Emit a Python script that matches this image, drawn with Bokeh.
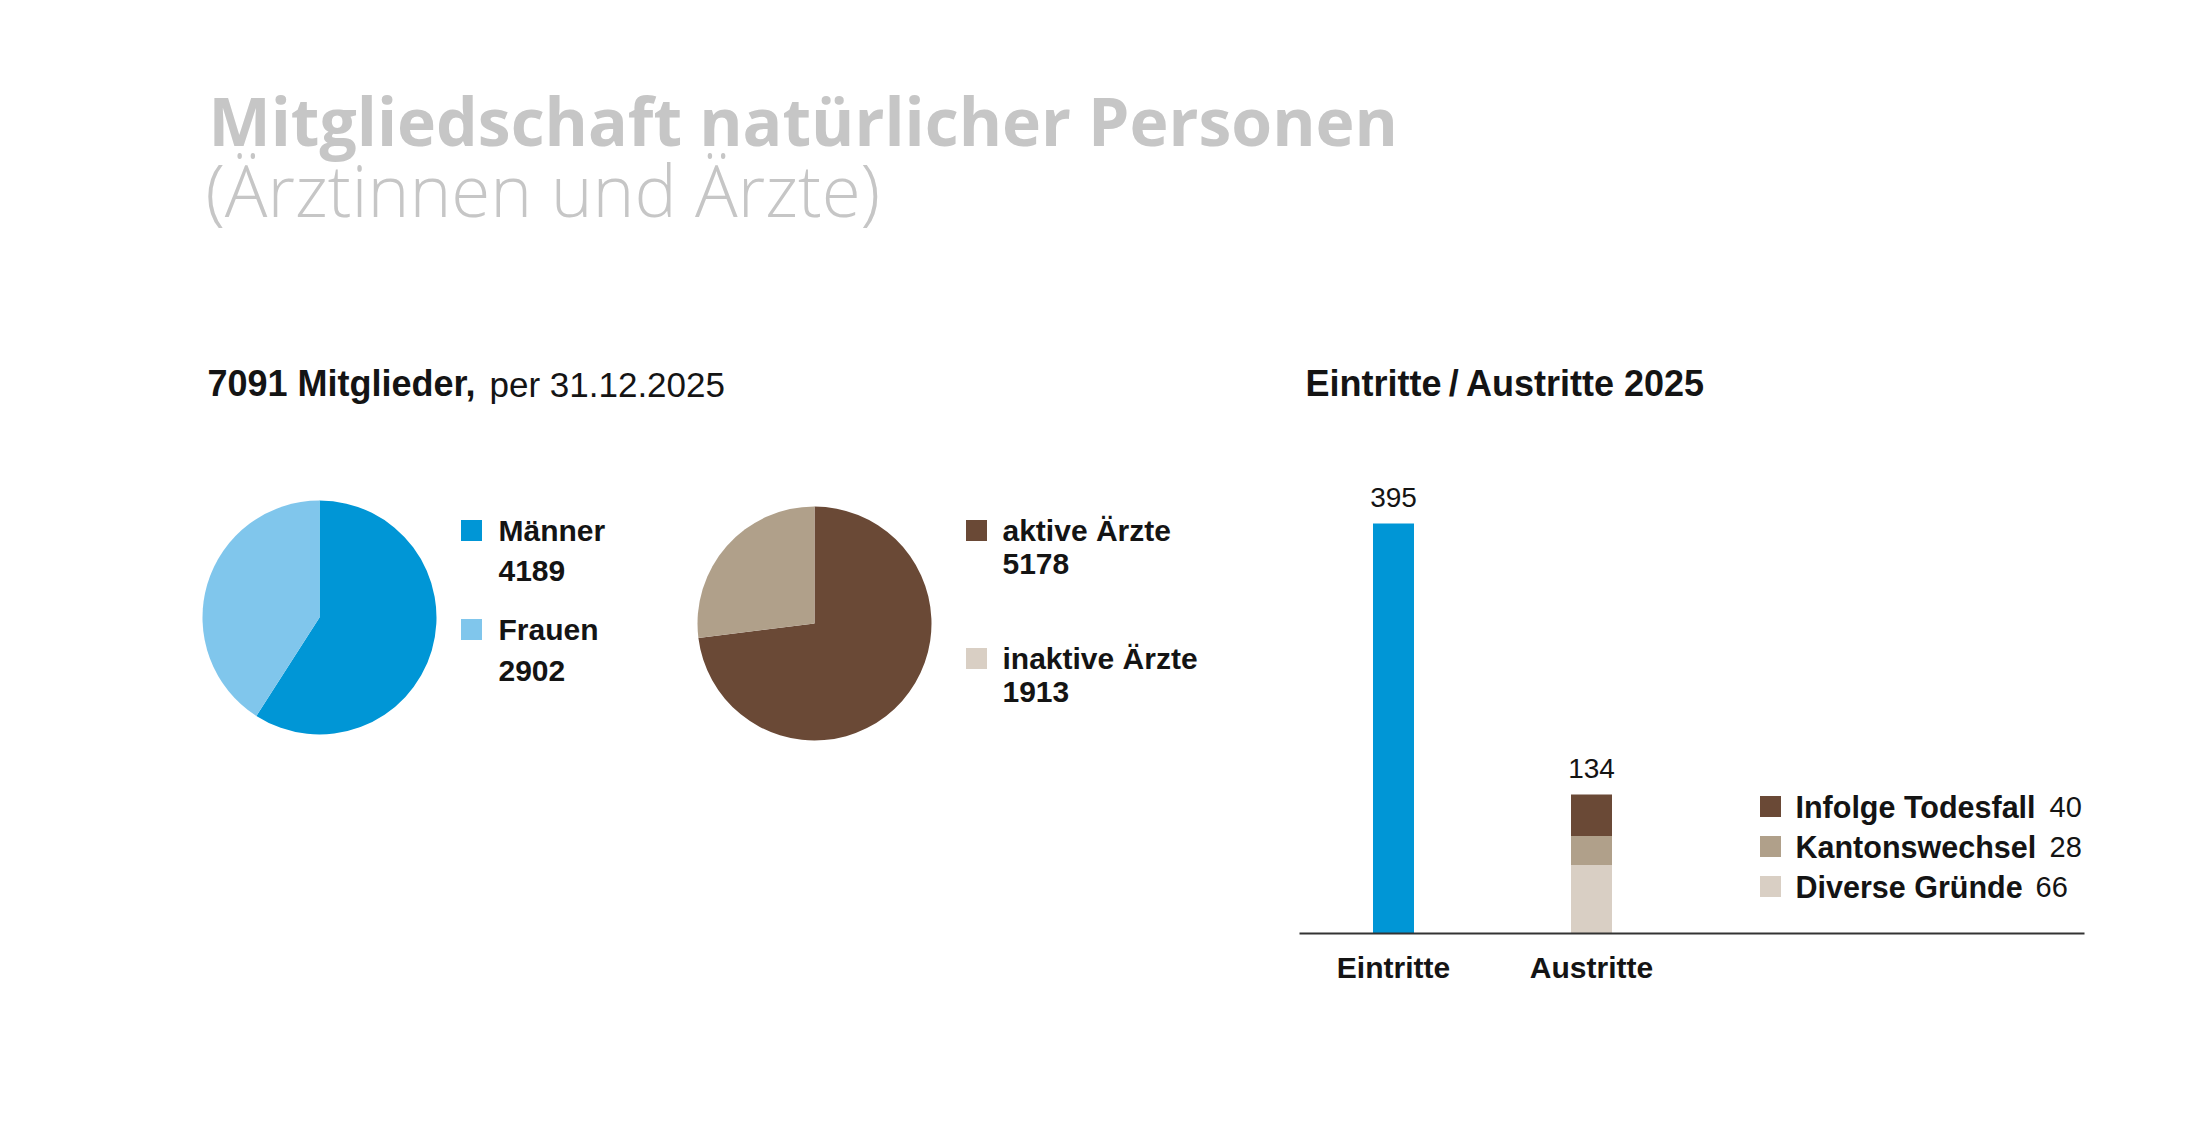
import numpy as np
from bokeh.plotting import figure
from bokeh.models import Range1d, FixedTicker, LinearAxis
from bokeh.core.properties import value
from bokeh.embed import file_html
from bokeh.resources import INLINE

# ---- data -------------------------------------------------------------
title_text = "Mitgliedschaft natürlicher Personen"
subtitle_text = "(Ärztinnen und Ärzte)"
members_total = 7091
members_date = "31.12.2025"

gender_labels = ["Männer", "Frauen"]
gender_values = [4189, 2902]

status_labels = ["aktive Ärzte", "inaktive Ärzte"]
status_values = [5178, 1913]

flow_categories = ["Eintritte", "Austritte"]
entries_value = 395
exit_reasons = ["Infolge Todesfall", "Kantonswechsel", "Diverse Gründe"]
exit_values = [40, 28, 66]

# ---- styling ----------------------------------------------------------
W, H = 2186, 1145
BLUE, LIGHT_BLUE = "#0096d6", "#80c6ec"
BROWN, TAN, SAND = "#6a4936", "#b0a08a", "#d9cfc4"
INK = "#141414"
GREY = "#c6c6c6"
HELV = value("Liberation Sans")

# The page is one plot; the frame covers everything above the bar baseline,
# the strip below it holds the category axis of the bar chart.
BASE_Y = 933                      # page row of the bar baseline
p = figure(width=W, height=H, x_range=Range1d(0, W), y_range=Range1d(H - BASE_Y, H),
           output_backend="svg", toolbar_location=None, x_axis_location=None,
           y_axis_location=None, min_border_left=0, min_border_right=0,
           min_border_top=0, min_border_bottom=H - BASE_Y)
p.grid.visible = False
p.outline_line_color = None
p.background_fill_color = "white"
p.border_fill_color = "white"


def Y(page_y):
    """page row (from the top) -> default y range"""
    return H - page_y


def txt(x, y, s, size, bold=False, color=INK, font=HELV, **kw):
    p.text(x=[x], y=[Y(y)], text=[s], text_font=font,
           text_font_style="bold" if bold else "normal", text_font_size=size,
           text_color=color, **kw)


# ---- header -----------------------------------------------------------
txt(208, 164, title_text, "66px", bold=True, color=GREY, font=value("Open Sans"))
txt(205, 237, subtitle_text, "71px", color=GREY, font=value("Open Sans Light"))
txt(207, 403, f"{members_total} Mitglieder,", "36px", bold=True)
txt(489, 403, f"per {members_date}", "35px")
txt(1305, 403, "Eintritte\u2009/\u2009Austritte 2025", "36px", bold=True)


# ---- pies -------------------------------------------------------------
def pie(cx, cy, values, colors):
    v = np.asarray(values, dtype=float)
    cum = np.concatenate([[0.0], np.cumsum(v / v.sum())])
    # slices run clockwise from 12 o'clock
    end = np.pi / 2 - 2 * np.pi * cum[:-1]
    start = np.pi / 2 - 2 * np.pi * cum[1:]
    p.wedge(x=[cx] * len(v), y=[Y(cy)] * len(v), radius=117, radius_units="screen",
            start_angle=start, end_angle=end, fill_color=colors, line_color=None)


def legend_entry(sx, sy, color, tx, label, label_y, number, number_y):
    p.scatter(x=[sx], y=[Y(sy)], marker="square", size=21, fill_color=color,
              line_color=None)
    txt(tx, label_y, label, "30px", bold=True, text_baseline="middle")
    txt(tx, number_y, str(number), "30px", bold=True, text_baseline="middle")


pie(319, 617, gender_values, [BLUE, LIGHT_BLUE])
legend_entry(471, 530, BLUE, 498, gender_labels[0], 530, gender_values[0], 570)
legend_entry(471, 629, LIGHT_BLUE, 498, gender_labels[1], 629, gender_values[1], 670)

pie(814, 623, status_values, [BROWN, TAN])
legend_entry(976, 530, BROWN, 1002, status_labels[0], 530, status_values[0], 563)
legend_entry(976, 658, SAND, 1002, status_labels[1], 658, status_values[1], 691)

# ---- entries / exits bars (own scales) --------------------------------
PX_PER_UNIT = 410 / 395           # bar height in px per member
CAT_STEP = 198                    # px between the two category centres
FIRST_CAT_X = 1393                # page column of the first category
cat_start = -FIRST_CAT_X / CAT_STEP
p.extra_x_ranges = {"cat": Range1d(cat_start, cat_start + W / CAT_STEP)}
p.extra_y_ranges = {"count": Range1d(0, BASE_Y / PX_PER_UNIT)}
rng = dict(x_range_name="cat", y_range_name="count")


def cat_x(page_x):
    return cat_start + page_x / CAT_STEP


xs = list(range(len(flow_categories)))
bar_width = 41 / CAT_STEP
p.vbar(x=[xs[0]], top=[entries_value], width=bar_width, fill_color=BLUE,
       line_color=None, **rng)

stack_keys = ["diverse", "kanton", "tod"]
stack_src = {"x": [xs[1]], "diverse": [exit_values[2]], "kanton": [exit_values[1]],
             "tod": [exit_values[0]]}
p.vbar_stack(stack_keys, x="x", width=bar_width, source=stack_src,
             fill_color=[SAND, TAN, BROWN], line_color=None, **rng)

totals = [entries_value, sum(exit_values)]
p.text(x=xs, y=totals, text=[str(t) for t in totals], text_font=HELV,
       text_font_size="28px", text_color=INK, text_align="center",
       text_baseline="alphabetic", y_offset=-26, **rng)

ax = LinearAxis(x_range_name="cat", ticker=FixedTicker(ticks=xs),
                bounds=(cat_x(1299), cat_x(2084)))
ax.major_label_overrides = {i: c for i, c in zip(xs, flow_categories)}
ax.major_tick_line_color = None
ax.minor_tick_line_color = None
ax.axis_line_color = "#333333"
ax.axis_line_width = 2
ax.major_label_text_font = "Liberation Sans"
ax.major_label_text_font_style = "bold"
ax.major_label_text_font_size = "30px"
ax.major_label_text_color = INK
ax.major_label_standoff = 11
p.add_layout(ax, "below")

# legend of the exit reasons
legend_rows = [806, 846, 886]
legend_colors = [BROWN, TAN, SAND]
value_x = [2049, 2049, 2035]
p.scatter(x=[1770] * 3, y=[Y(r) for r in legend_rows], marker="square", size=21,
          fill_color=legend_colors, line_color=None)
p.text(x=[1795] * 3, y=[Y(r) for r in legend_rows], text=exit_reasons,
       text_font=HELV, text_font_style="bold", text_font_size="30.5px", text_color=INK,
       text_baseline="middle")
p.text(x=value_x, y=[Y(r) for r in legend_rows], text=[str(v) for v in exit_values],
       text_font=HELV, text_font_size="29px", text_color=INK, text_baseline="middle")

open("out.html", "w").write(file_html(p, INLINE))
